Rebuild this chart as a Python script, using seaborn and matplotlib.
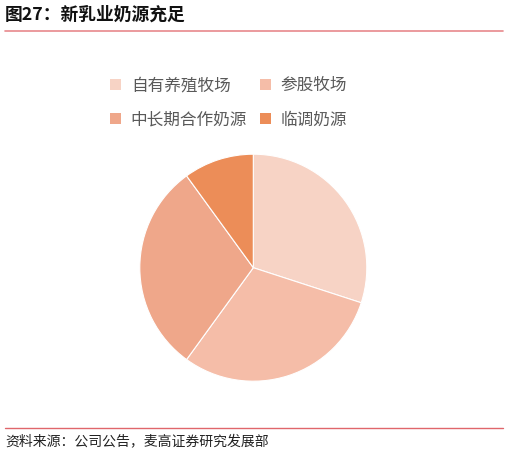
import matplotlib
matplotlib.use("Agg")
import matplotlib.pyplot as plt
import seaborn as sns
from matplotlib.patches import Patch
from matplotlib.lines import Line2D

sns.set_theme(style="white")
plt.rcParams['font.family'] = ['Noto Sans CJK SC', 'DejaVu Sans']

categories = ["自有养殖牧场", "参股牧场", "中长期合作奶源", "临调奶源"]
shares = [30, 30, 30, 10]
colors = ["#F7D3C5", "#F5BDA8", "#EFA78A", "#EC8D58"]

title = "图27：新乳业奶源充足"
source = "资料来源：公司公告，麦高证券研究发展部"

W, H = 508, 454
fig = plt.figure(figsize=(W / 100, H / 100), dpi=100)
fig.patch.set_facecolor("white")

cx, cy, r = 253.3, 267.7, 113.5
ax = fig.add_axes([(cx - r) / W, (H - cy - r) / H, 2 * r / W, 2 * r / H])
ax.pie(shares, colors=colors, startangle=90, counterclock=False, radius=1,
       wedgeprops=dict(linewidth=0.8, edgecolor="white"))
ax.set_xlim(-1.0, 1.0)
ax.set_ylim(-1.0, 1.0)
ax.set_aspect("equal")
ax.axis("off")

# title and rules
fig.text(5 / W, 1 - 15 / H, title, fontsize=12.8, fontweight="bold", color="#111111",
         ha="left", va="center")
fig.add_artist(Line2D([5 / W, 503 / W], [1 - 31 / H, 1 - 31 / H], color="#E8898C", lw=1.2))
fig.add_artist(Line2D([5 / W, 503 / W], [1 - 428 / H, 1 - 428 / H], color="#E0666B", lw=1.0))
fig.text(5 / W, 1 - 441 / H, source, fontsize=10, color="#222222", ha="left", va="center")

# legend: row-major order in 2 columns
order = [0, 2, 1, 3]
handles = [Patch(facecolor=colors[i], edgecolor="none") for i in order]
labels = [categories[i] for i in order]
leg = fig.legend(handles, labels, ncol=2, loc="upper left",
                 bbox_to_anchor=(110 / W, 1 - 77 / H), frameon=False,
                 fontsize=12, handlelength=0.65, handleheight=0.65,
                 handletextpad=0.6, columnspacing=0.75, labelspacing=1.05,
                 borderaxespad=0, borderpad=0)
for t in leg.get_texts():
    t.set_color("#595959")

fig.savefig("out.png", dpi=100, facecolor="white")
